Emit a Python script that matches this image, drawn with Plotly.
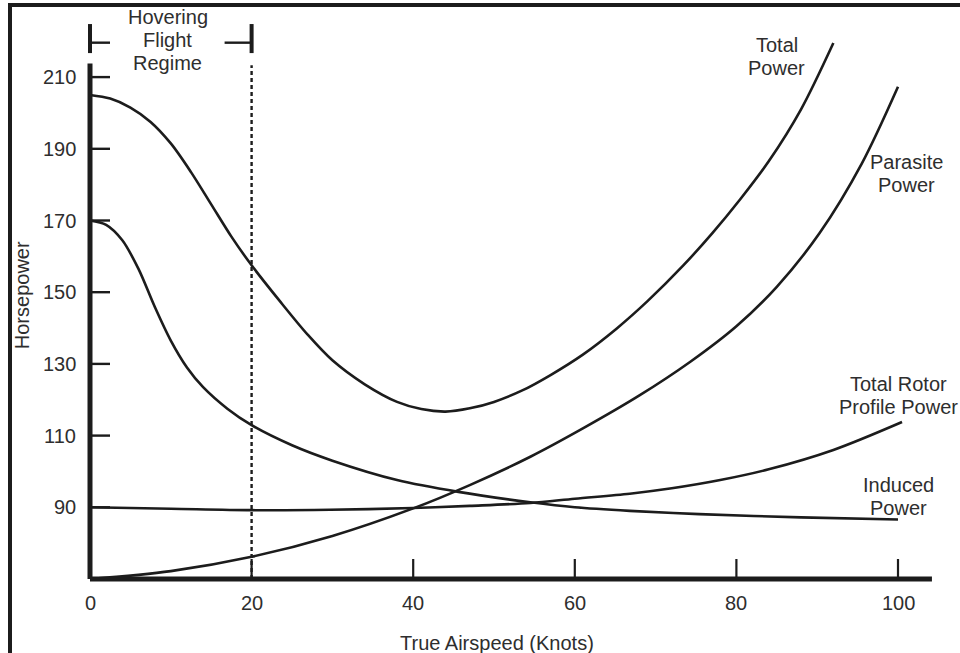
# power required vs airspeed chart (helicopter)
import plotly.graph_objects as go

# curve data
total_x = [0, 2.5, 5, 7.5, 10, 12.5, 15, 17.5, 20, 23.5, 27, 30, 34, 38, 41, 44, 47, 50, 53.5, 57, 61, 65.2, 69, 73.4, 77, 80.5, 84, 88, 92]
total_y = [205, 204, 201.5, 197.5, 191.5, 183.5, 174.5, 165.5, 157.5, 147.5, 138, 131, 124.3, 119.4, 117.4, 116.7, 117.6, 119.4, 122.6, 126.9, 132.6, 139.9, 147.5, 157.4, 166.4, 176, 186.5, 201, 219.5]

parasite_x = [0, 10, 20, 30, 40, 47, 54.5, 61, 68, 74.3, 80, 85, 90.3, 95.5, 100]
parasite_y = [70, 72.2, 76.2, 82, 89.7, 96.2, 104.1, 112, 121.2, 130.6, 140.5, 151.5, 166.5, 185.8, 207.3]

induced_x = [0, 2, 4, 6, 8, 10, 12, 14, 17, 20, 25, 30, 38, 45.6, 54.5, 60, 66.8, 75.4, 88, 100]
induced_y = [170, 168.8, 164.5, 156.5, 146, 136.5, 129, 123.5, 117.5, 112.9, 107.3, 103, 97.6, 94.3, 91.4, 90.0, 89.0, 88.1, 87.2, 86.6]

profile_x = [0, 10, 20, 29.7, 40, 47, 54.5, 60, 66.8, 72, 78, 84, 92, 100.5]
profile_y = [90, 89.6, 89.2, 89.3, 89.8, 90.4, 91.2, 92.4, 93.8, 95.3, 97.6, 100.6, 106, 113.8]

# axis ticks
x_ticks = [0, 20, 40, 60, 80, 100]
y_ticks = [90, 110, 130, 150, 170, 190, 210]
hover_speed = 20

# scale of the picture (pixels per unit) so the plot fills the page
W, H = 960, 653
px_x = 8.08
px_y = 3.585
x0_pix = 90
y70_pix = 579
x_range = [-x0_pix / px_x, (W - x0_pix) / px_x]
y_range = [70 - (H - y70_pix) / px_y, 70 + y70_pix / px_y]

ink = "#1c1c1c"
txt = "#2e2e2e"
font = dict(family="Arial", size=20, color=txt)

fig = go.Figure()

for xs, ys in [(total_x, total_y), (parasite_x, parasite_y),
               (induced_x, induced_y), (profile_x, profile_y)]:
    fig.add_trace(go.Scatter(x=xs, y=ys, mode="lines",
                             line=dict(color=ink, width=2.6, shape="spline", smoothing=0.9),
                             showlegend=False, hoverinfo="skip"))

shapes = []
# frame on the left and top of the picture
shapes.append(dict(type="line", xref="paper", yref="paper", x0=10 / W, x1=10 / W,
                   y0=0, y1=1 - 3 / H, line=dict(color=ink, width=4)))
shapes.append(dict(type="line", xref="paper", yref="paper", x0=8 / W, x1=1,
                   y0=1 - 5 / H, y1=1 - 5 / H, line=dict(color=ink, width=4)))

# axis lines
shapes.append(dict(type="line", x0=0, x1=0, y0=70, y1=213.8, line=dict(color=ink, width=5)))
shapes.append(dict(type="line", x0=0, x1=104.2, y0=70, y1=70, line=dict(color=ink, width=5)))

# tick marks drawn inside
for t in x_ticks[1:]:
    shapes.append(dict(type="line", x0=t, x1=t, y0=70, y1=70 + 20 / px_y,
                       line=dict(color=ink, width=2.2)))
for t in y_ticks:
    shapes.append(dict(type="line", x0=0, x1=20 / px_x, y0=t, y1=t,
                       line=dict(color=ink, width=2.4)))

# dashed line at the end of the hovering regime
shapes.append(dict(type="line", x0=hover_speed, x1=hover_speed, y0=70, y1=213.3,
                   line=dict(color=ink, width=2.4, dash="4px,3px")))

# bracket for hovering flight regime
br_top, br_bot, br_mid = 224.8, 216.7, 219.6
for bx in [0, hover_speed]:
    shapes.append(dict(type="line", x0=bx, x1=bx, y0=br_bot, y1=br_top,
                       line=dict(color=ink, width=4)))
shapes.append(dict(type="line", x0=0, x1=20 / px_x, y0=br_mid, y1=br_mid,
                   line=dict(color=ink, width=2.4)))
shapes.append(dict(type="line", x0=hover_speed - 27 / px_x, x1=hover_speed, y0=br_mid, y1=br_mid,
                   line=dict(color=ink, width=2.4)))

annotations = []
# tick labels
for t in x_ticks:
    annotations.append(dict(x=t, y=63.3, text=str(t), showarrow=False,
                            xanchor="center", yanchor="middle", font=font))
for t in y_ticks:
    annotations.append(dict(x=-12 / px_x, y=t, text=str(t), showarrow=False,
                            xanchor="right", yanchor="middle", font=font))

# axis titles
annotations.append(dict(x=50.4, y=52.1, text="True Airspeed (Knots)", showarrow=False,
                        xanchor="center", yanchor="middle", font=font))
annotations.append(dict(x=-8.4, y=149.2, text="Horsepower", showarrow=False, textangle=-90,
                        xanchor="center", yanchor="middle", font=font))


# multi line labels, 23 px between lines
def add_label(lines, x, y):
    n = len(lines)
    for i, line in enumerate(lines):
        annotations.append(dict(x=x, y=y, text=line, showarrow=False,
                                xanchor="center", yanchor="middle",
                                yshift=((n - 1) / 2 - i) * 23, font=font))


add_label(["Hovering", "Flight", "Regime"], 9.65, 220.3)
add_label(["Total", "Power"], 85.0, 215.7)
add_label(["Parasite", "Power"], 101.1, 183.1)
add_label(["Total Rotor", "Profile Power"], 100.0, 121.3)
add_label(["Induced", "Power"], 100.0, 93.0)

fig.update_layout(width=W, height=H, autosize=False,
                  margin=dict(l=0, r=0, t=0, b=0, pad=0),
                  paper_bgcolor="white", plot_bgcolor="white",
                  shapes=shapes, annotations=annotations)
fig.update_xaxes(range=x_range, visible=False, fixedrange=True)
fig.update_yaxes(range=y_range, visible=False, fixedrange=True)

# remove the page margin so the chart sits at the top-left corner
fig.write_html("out.html", config={"displayModeBar": False},
               post_script="document.body.style.margin='0';document.body.style.overflow='hidden';")
